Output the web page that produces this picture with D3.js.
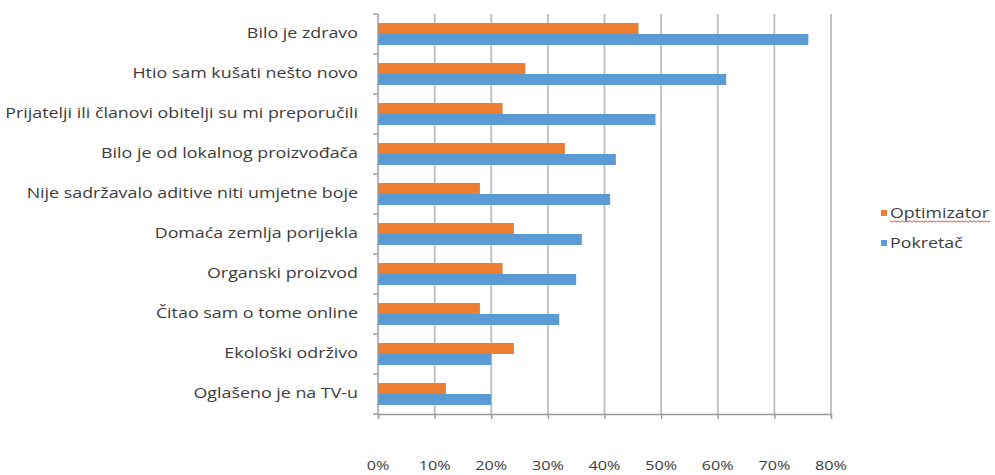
<!DOCTYPE html>
<html>
<head>
<meta charset="utf-8">
<script src="https://cdn.jsdelivr.net/npm/d3@7"></script>
<style>
  body { margin: 0; background: #fff; }
  .chart text { font-family: "Open Sans", sans-serif; fill: #3c3c3c; }
</style>
</head>
<body>
<div class="chart"></div>
<script>
"use strict";

// data
const categories = [
  "Bilo je zdravo",
  "Htio sam kušati nešto novo",
  "Prijatelji ili članovi obitelji su mi preporučili",
  "Bilo je od lokalnog proizvođača",
  "Nije sadržavalo aditive niti umjetne boje",
  "Domaća zemlja porijekla",
  "Organski proizvod",
  "Čitao sam o tome online",
  "Ekološki održivo",
  "Oglašeno je na TV-u"
];
const seriesNames = ["Optimizator", "Pokretač"];
const optimizator = [0.46, 0.26, 0.22, 0.33, 0.18, 0.24, 0.22, 0.18, 0.24, 0.12];
const pokretac = [0.76, 0.615, 0.49, 0.42, 0.41, 0.36, 0.35, 0.32, 0.20, 0.20];
const xTicks = [0, 0.1, 0.2, 0.3, 0.4, 0.5, 0.6, 0.7, 0.8];
const colors = ["#ED7D31", "#5B9BD5"];

const makePlot = () => {
  const width = 995;
  const height = 475;
  const plot = { left: 378, right: 831, top: 14, bottom: 414 };
  const stretch = 1.23; // the source picture is stretched sideways

  const svg = d3
    .select(".chart")
    .append("svg")
    .attr("width", width)
    .attr("height", height);

  const x = d3.scaleLinear().domain([0, 0.8]).range([plot.left, plot.right]);

  const y0 = d3.scaleBand().domain(categories).range([plot.top, plot.bottom]);
  const y1 = d3
    .scaleBand()
    .domain(seriesNames)
    .range([0, y0.bandwidth()])
    .paddingOuter(0.82);

  const color = d3.scaleOrdinal().domain(seriesNames).range(colors);

  //gridlines
  svg
    .append("g")
    .selectAll("line")
    .data(xTicks.slice(1))
    .enter()
    .append("line")
    .attr("x1", (d) => x(d))
    .attr("x2", (d) => x(d))
    .attr("y1", plot.top)
    .attr("y2", plot.bottom)
    .attr("stroke", "#bdbdbd")
    .attr("stroke-width", 1.8);

  //bars
  const rows = categories.map((c, i) => ({
    cat: c,
    vals: [
      { name: seriesNames[0], v: optimizator[i] },
      { name: seriesNames[1], v: pokretac[i] }
    ]
  }));

  svg
    .append("g")
    .selectAll("g")
    .data(rows)
    .enter()
    .append("g")
    .attr("transform", (d) => "translate(0," + y0(d.cat) + ")")
    .selectAll("rect")
    .data((d) => d.vals)
    .enter()
    .append("rect")
    .attr("x", x(0))
    .attr("y", (d) => y1(d.name))
    .attr("width", (d) => x(d.v) - x(0))
    .attr("height", y1.bandwidth())
    .attr("fill", (d) => color(d.name));

  //bottom axis line + ticks
  const xAxis = d3.axisBottom(x).tickValues(xTicks).tickSize(5).tickFormat("");
  const gx = svg
    .append("g")
    .attr("transform", "translate(0," + plot.bottom + ")")
    .call(xAxis);
  gx.select(".domain").attr("stroke", "#9a9a9a").attr("stroke-width", 1.4);
  gx.selectAll(".tick line").attr("stroke", "#9a9a9a").attr("stroke-width", 1.4);

  //tick labels, far below the axis
  svg
    .append("g")
    .selectAll("text")
    .data(xTicks)
    .enter()
    .append("text")
    .attr("transform", (d) => "translate(" + x(d) + ",465) scale(1.2,1)")
    .attr("dy", "0.35em")
    .style("text-anchor", "middle")
    .style("font-size", "13.5px")
    .text(d3.format(".0%"));

  //left axis with ticks between categories
  svg
    .append("line")
    .attr("x1", plot.left)
    .attr("x2", plot.left)
    .attr("y1", plot.top)
    .attr("y2", plot.bottom)
    .attr("stroke", "#9a9a9a")
    .attr("stroke-width", 1.4);

  const bounds = categories.map((c) => y0(c)).concat([plot.bottom]);
  svg
    .append("g")
    .selectAll("line")
    .data(bounds)
    .enter()
    .append("line")
    .attr("x1", plot.left - 5)
    .attr("x2", plot.left)
    .attr("y1", (d) => d)
    .attr("y2", (d) => d)
    .attr("stroke", "#9a9a9a")
    .attr("stroke-width", 1.4);

  //category labels
  svg
    .append("g")
    .selectAll("text")
    .data(categories)
    .enter()
    .append("text")
    .attr(
      "transform",
      (d) => "translate(358," + (y0(d) + y0.bandwidth() / 2 - 1) + ") scale(" + stretch + ",1)"
    )
    .attr("dy", "0.35em")
    .style("text-anchor", "end")
    .style("font-size", "14.5px")
    .text((d) => d);

  //LEGEND
  const legend = svg
    .append("g")
    .selectAll("g")
    .data(seriesNames)
    .enter()
    .append("g")
    .attr("transform", (d, i) => "translate(881," + (213 + i * 30) + ")");

  legend
    .append("rect")
    .attr("y", -3)
    .attr("width", 6)
    .attr("height", 6)
    .attr("fill", (d) => color(d));

  legend
    .append("text")
    .attr("transform", "translate(9,0) scale(1.27,1)")
    .attr("dy", "0.35em")
    .style("font-size", "14px")
    .text((d) => d);

  // red spellcheck squiggle under "Optimizator"
  const squig = d3.range(0, 102, 2).map((d, i) => [890 + d, 221 + (i % 2 ? 1.2 : -0.2)]);
  svg
    .append("path")
    .attr("d", d3.line()(squig))
    .attr("fill", "none")
    .attr("stroke", "#e05050")
    .attr("stroke-width", 1);
};

makePlot();
</script>
</body>
</html>
